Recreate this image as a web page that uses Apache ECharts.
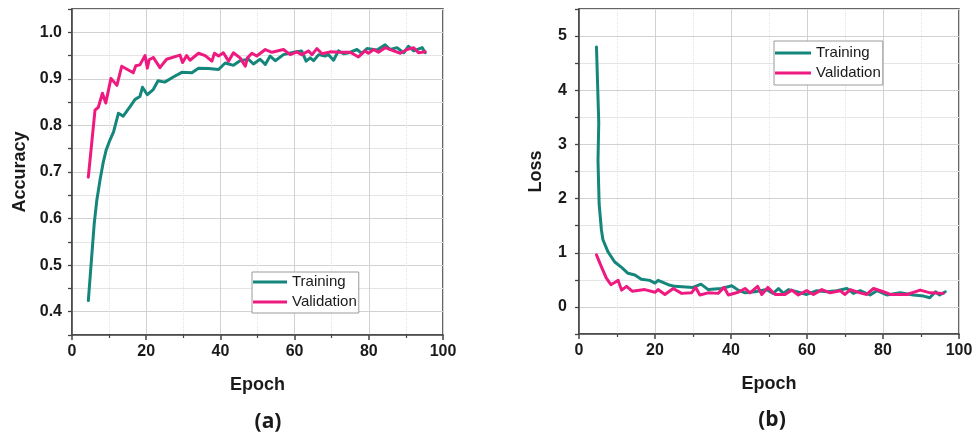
<!DOCTYPE html>
<html>
<head>
<meta charset="utf-8">
<script src="https://cdn.jsdelivr.net/npm/echarts@6/dist/echarts.min.js"></script>
<style>
  html, body { margin: 0; padding: 0; background: #fff; }
  #chart { width: 976px; height: 434px; }
</style>
</head>
<body>
<div id="chart"></div>
<script>
// ---- Accuracy curves (panel a) ----
const accTrainEpoch = [4.4, 6.0, 6.7, 7.6, 8.4, 9.2, 10.2, 11.2, 12.5, 13.8, 15.6, 17, 18.3, 19, 20.3, 21.9, 23.2, 25, 27.3, 29.6, 32.3, 34.1, 36.8, 39.5, 41.3, 43.5, 45.3, 47.6, 48.9, 50.7, 52.1, 53.4, 54.8, 57, 59.7, 61.9, 63.1, 64.2, 65.1, 66.5, 68.2, 69.1, 70.5, 71.8, 73.2, 74.6, 76.8, 78.1, 79.5, 82.2, 84.4, 85.8, 87.6, 89.4, 90.7, 92.1, 94.4, 95.2];
const accTrain = [0.424, 0.59, 0.64, 0.685, 0.72, 0.747, 0.768, 0.786, 0.826, 0.820, 0.840, 0.856, 0.862, 0.882, 0.866, 0.877, 0.896, 0.893, 0.904, 0.914, 0.913, 0.923, 0.922, 0.920, 0.934, 0.929, 0.939, 0.942, 0.932, 0.942, 0.931, 0.949, 0.939, 0.952, 0.957, 0.960, 0.938, 0.945, 0.939, 0.952, 0.949, 0.952, 0.940, 0.960, 0.954, 0.956, 0.963, 0.955, 0.965, 0.962, 0.973, 0.963, 0.967, 0.956, 0.970, 0.960, 0.967, 0.956];

const accValEpoch = [4.4, 6.2, 7.1, 8.2, 9.1, 10.5, 12.1, 13.4, 16.5, 17.2, 18.3, 19.7, 20.3, 20.8, 21.9, 23.7, 25.5, 29.1, 29.8, 30.9, 31.8, 34.1, 35.9, 37.7, 38.4, 39.5, 40.8, 42.2, 43.5, 45.3, 46.7, 47.3, 48.5, 49.8, 52.1, 53.9, 57, 58.8, 60.6, 61.9, 63.8, 64.7, 66, 67.4, 69.6, 72.3, 75, 77.2, 79, 79.9, 81.3, 82.6, 84.4, 86.7, 88.5, 90.3, 92.1, 93.4, 95.2];
const accVal = [0.689, 0.833, 0.839, 0.869, 0.848, 0.901, 0.886, 0.927, 0.913, 0.928, 0.930, 0.950, 0.923, 0.941, 0.946, 0.924, 0.942, 0.951, 0.935, 0.950, 0.940, 0.955, 0.950, 0.938, 0.955, 0.949, 0.956, 0.938, 0.956, 0.945, 0.927, 0.945, 0.955, 0.949, 0.963, 0.957, 0.963, 0.952, 0.958, 0.952, 0.960, 0.952, 0.965, 0.954, 0.958, 0.957, 0.957, 0.947, 0.960, 0.955, 0.963, 0.957, 0.967, 0.960, 0.955, 0.963, 0.967, 0.956, 0.958];

// ---- Loss curves (panel b) ----
const lossTrainEpoch = [4.6, 5.2, 5.0, 5.3, 5.9, 6.3, 7.6, 9.4, 11.2, 12.9, 14.7, 16.4, 18.6, 20.0, 20.8, 23.5, 25.2, 30.0, 32.1, 34.0, 37.5, 40.2, 41.9, 43.7, 46.3, 49.4, 51.1, 52.5, 53.8, 55.1, 57.3, 59.9, 62.6, 65.2, 67.8, 70.5, 72.2, 74.0, 76.6, 78.4, 81.0, 84.5, 88.0, 90.7, 92.3, 93.8, 94.9, 96.4];
const lossTrain = [4.80, 3.40, 2.70, 1.90, 1.42, 1.24, 1.02, 0.83, 0.73, 0.62, 0.59, 0.51, 0.49, 0.44, 0.49, 0.41, 0.38, 0.36, 0.42, 0.32, 0.34, 0.39, 0.31, 0.26, 0.28, 0.32, 0.25, 0.34, 0.25, 0.32, 0.28, 0.23, 0.30, 0.28, 0.30, 0.34, 0.25, 0.30, 0.22, 0.30, 0.22, 0.26, 0.22, 0.20, 0.17, 0.28, 0.22, 0.28];

const lossValEpoch = [4.6, 5.9, 7.2, 8.4, 9.4, 10.3, 11.2, 12.5, 14.0, 17.3, 20.0, 20.8, 22.6, 24.8, 27.0, 29.6, 30.7, 31.8, 34.0, 36.6, 38.2, 39.3, 41.9, 43.7, 45.0, 47.0, 48.1, 49.7, 51.6, 54.2, 56.0, 57.7, 59.9, 61.7, 63.9, 66.1, 68.7, 70.0, 71.4, 74.0, 75.7, 77.5, 80.1, 81.9, 86.3, 89.8, 92.4, 95.9];
const lossVal = [0.96, 0.74, 0.53, 0.41, 0.45, 0.49, 0.31, 0.38, 0.29, 0.32, 0.27, 0.32, 0.23, 0.34, 0.25, 0.26, 0.36, 0.22, 0.26, 0.25, 0.36, 0.22, 0.27, 0.34, 0.26, 0.38, 0.23, 0.36, 0.23, 0.23, 0.31, 0.22, 0.30, 0.23, 0.32, 0.26, 0.30, 0.23, 0.32, 0.26, 0.23, 0.34, 0.28, 0.23, 0.23, 0.31, 0.26, 0.25];

// ---- Axis ranges, steps and text ----
const epochRange = [0, 100];
const epochStep = 20;
const accRange = [0.35, 1.05];
const accStep = 0.05;      // labelled every 0.1
const lossRange = [-0.5, 5.5];
const lossStep = 0.5;      // labelled every 1
const seriesNames = ['Training', 'Validation'];
const panelTags = ['(a)', '(b)'];

const FONT = '"Liberation Sans", Arial, Helvetica, sans-serif';
const TEAL = '#15867b';
const PINK = '#ee1a80';
const AXIS = '#444';

function pairs(xs, ys) {
  const n = Math.min(xs.length, ys.length);
  const out = [];
  for (let i = 0; i < n; i++) out.push([xs[i], ys[i]]);
  return out;
}

const nameStyle = { fontFamily: FONT, fontWeight: 'bold', fontSize: 18, color: '#1a1a1a' };
const labelStyle = { fontFamily: FONT, fontWeight: 'bold', fontSize: 16, color: '#1a1a1a' };

function epochAxis(gridIndex) {
  return {
    type: 'value', gridIndex,
    min: epochRange[0], max: epochRange[1], interval: epochStep,
    name: 'Epoch', nameLocation: 'middle', nameGap: 41, nameMoveOverlap: false,
    nameTextStyle: nameStyle,
    axisLine: { show: true, onZero: false, lineStyle: { color: AXIS, width: 1.5 } },
    axisTick: { show: true, length: 5, lineStyle: { color: AXIS, width: 1.5 } },
    minorTick: { show: true, splitNumber: 2, length: 3, lineStyle: { color: AXIS, width: 1.2 } },
    axisLabel: Object.assign({ margin: 9, hideOverlap: false }, labelStyle),
    splitLine: { show: true, lineStyle: { color: '#d2d2d2', width: 1 } },
    minorSplitLine: { show: true, lineStyle: { color: '#e2e2e2', width: 1, type: 'dotted' } }
  };
}

function valueAxis(gridIndex, name, range, step, labelEvery, digits, nameGap, margin) {
  return {
    type: 'value', gridIndex,
    min: range[0], max: range[1], interval: step,
    name, nameLocation: 'middle', nameGap, nameMoveOverlap: false,
    nameTextStyle: nameStyle,
    axisLine: { show: true, onZero: false, lineStyle: { color: AXIS, width: 1.5 } },
    axisTick: { show: true, length: 4, lineStyle: { color: AXIS, width: 1.3 } },
    axisLabel: Object.assign({
      margin, hideOverlap: false,
      formatter: function (v) {
        const k = v / labelEvery;
        return Math.abs(k - Math.round(k)) < 1e-6 ? v.toFixed(digits) : '';
      }
    }, labelStyle),
    splitLine: { show: true, lineStyle: { color: ['#e4e4e4', '#d2d2d2'], width: 1 } }
  };
}

function curve(name, xIdx, data, color) {
  return {
    name, type: 'line', xAxisIndex: xIdx, yAxisIndex: xIdx,
    data, symbol: 'none', smooth: false, color,
    lineStyle: { color, width: 3, join: 'round', cap: 'round' },
    itemStyle: { color },
    emphasis: { disabled: true }
  };
}

function legendAt(left, top, iconW, pad) {
  return {
    left, top, orient: 'vertical', data: seriesNames,
    icon: 'rect', itemWidth: iconW, itemHeight: 3, itemGap: 2,
    padding: pad, borderColor: '#9a9a9a', borderWidth: 1, borderRadius: 0,
    backgroundColor: '#fff', selectedMode: false,
    textStyle: { fontFamily: FONT, fontSize: 15, color: '#1a1a1a', lineHeight: 18 }
  };
}

const chart = echarts.init(document.getElementById('chart'), null, { renderer: 'canvas' });

chart.setOption({
  animation: false,
  backgroundColor: '#fff',
  grid: [
    { left: 72, right: 533, top: 9, bottom: 99, show: true, borderColor: '#333', borderWidth: 1.5, backgroundColor: 'transparent' },
    { left: 579, right: 17, top: 9, bottom: 100, show: true, borderColor: '#333', borderWidth: 1.5, backgroundColor: 'transparent' }
  ],
  xAxis: [epochAxis(0), epochAxis(1)],
  yAxis: [
    valueAxis(0, 'Accuracy', accRange, accStep, 0.1, 1, 43, 10),
    valueAxis(1, 'Loss', lossRange, lossStep, 1, 0, 34, 12)
  ],
  legend: [
    legendAt(252, 272, 34, [1, 2, 2, 1]),
    legendAt(774, 41, 36, [3, 2, 3, 1])
  ],
  series: [
    curve(seriesNames[0], 0, pairs(accTrainEpoch, accTrain), TEAL),
    curve(seriesNames[1], 0, pairs(accValEpoch, accVal), PINK),
    curve(seriesNames[0], 1, pairs(lossTrainEpoch, lossTrain), TEAL),
    curve(seriesNames[1], 1, pairs(lossValEpoch, lossVal), PINK)
  ],
  graphic: [
    { type: 'text', x: 268, y: 422, style: { text: panelTags[0], fill: '#1a1a1a', font: 'bold 21px "Open Sans", "Noto Sans", sans-serif', textAlign: 'center', textVerticalAlign: 'middle' } },
    { type: 'text', x: 772, y: 420, style: { text: panelTags[1], fill: '#1a1a1a', font: 'bold 21px "Open Sans", "Noto Sans", sans-serif', textAlign: 'center', textVerticalAlign: 'middle' } }
  ]
});
</script>
</body>
</html>
